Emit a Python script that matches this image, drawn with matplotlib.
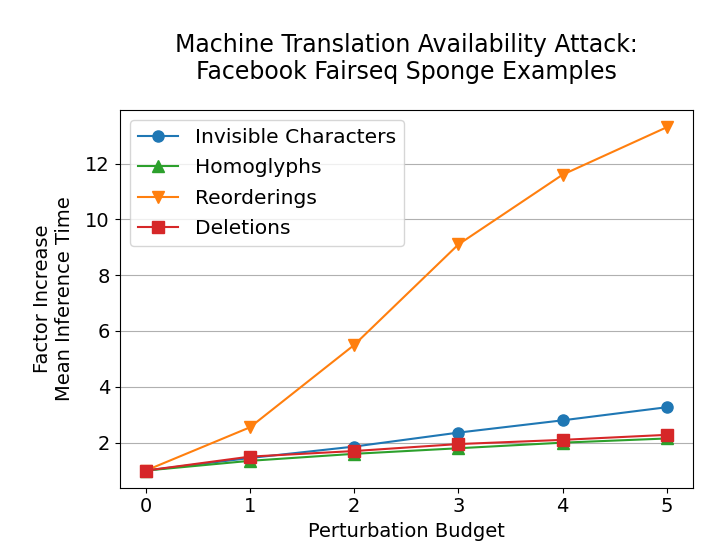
import matplotlib
matplotlib.use("Agg")
import matplotlib.pyplot as plt

budget = [0, 1, 2, 3, 4, 5]
invisible = [1.0, 1.45, 1.86, 2.36, 2.8, 3.27]
homoglyphs = [1.0, 1.35, 1.6, 1.8, 2.0, 2.15]
reorderings = [1.0, 2.55, 5.5, 9.1, 11.6, 13.3]
deletions = [1.0, 1.5, 1.7, 1.95, 2.1, 2.28]

plt.rcParams["font.size"] = 14

fig, ax = plt.subplots(figsize=(7.21, 5.53), dpi=100)
ax.plot(budget, invisible, marker="o", markersize=8, label="Invisible Characters", color="tab:blue")
ax.plot(budget, homoglyphs, marker="^", markersize=8, label="Homoglyphs", color="tab:green")
ax.plot(budget, reorderings, marker="v", markersize=8, label="Reorderings", color="tab:orange")
ax.plot(budget, deletions, marker="s", markersize=8, label="Deletions", color="tab:red")

ax.set_title("Machine Translation Availability Attack:\nFacebook Fairseq Sponge Examples", fontsize=17, pad=22)
ax.set_xlabel("Perturbation Budget")
ax.set_ylabel("Factor Increase\nMean Inference Time", labelpad=8)
ax.grid(axis="y")
ax.legend(loc="upper left", fontsize=14.6, borderaxespad=0.5, labelspacing=0.55)

fig.subplots_adjust(left=0.166, right=0.961, top=0.801, bottom=0.118)
fig.savefig("out.png", dpi=100)
